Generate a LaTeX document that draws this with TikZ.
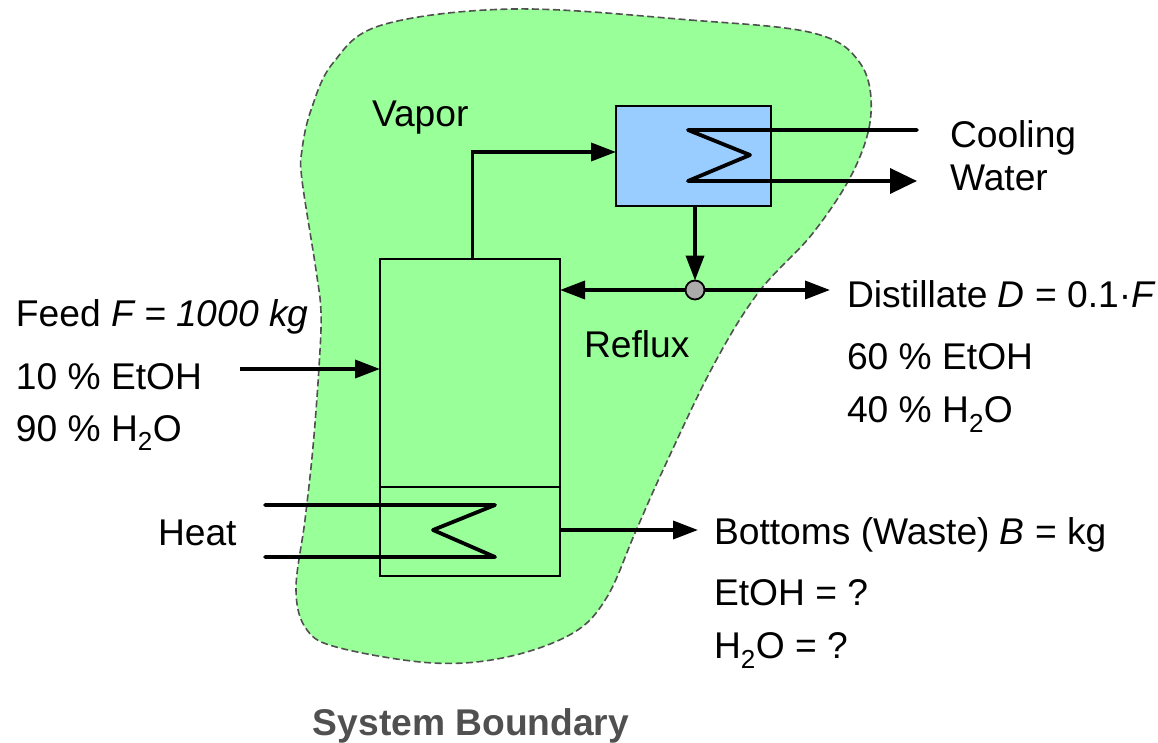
\documentclass[tikz,border=0pt]{standalone}
\usepackage{fontspec}
\setmainfont{Liberation Sans}
\usetikzlibrary{arrows.meta}
\definecolor{bfill}{HTML}{99FF99}
\definecolor{cfill}{HTML}{99CCFF}
\definecolor{jfill}{HTML}{ABABAB}
\definecolor{bline}{HTML}{505050}
\tikzset{
  x=1pt,y=-1pt,
  lab/.style={anchor=base west,inner sep=0pt,outer sep=0pt,font=\fontsize{37.2}{42}\selectfont},
  unitbox/.style={draw=black,line width=2pt,inner sep=0pt,outer sep=0pt},
  flow/.style={line width=3.6pt,line join=miter},
  flowend/.style={flow,-{Triangle[length=25pt,width=18pt]}},
  flowbig/.style={flow,-{Triangle[length=27pt,width=25pt]}},
  coil/.style={line width=3.8pt,line join=round,line cap=round},
}
\begin{document}
\begin{tikzpicture}
\useasboundingbox (0,0) rectangle (1158,743);
\draw[fill=bfill,draw=bline,line width=1.6pt,dash pattern=on 7pt off 3.5pt]
 plot[smooth cycle,tension=0.6] coordinates {
 (514,9) (690,20) (813,33) (860,63) (871,113) (854,170) (813,233) (758,293) (712,368)
 (663,470) (635,533) (607,597) (573,633) (507,657) (433,663) (340,648) (307,630)
 (296,590) (305,520) (313,447) (319,367) (321,313) (316,270) (302,180) (302,150) (311,110) (333,63) (382,25)};
% units
\node[unitbox,fill=bfill,minimum width=180pt,minimum height=228pt] (column) at (470,373) {};
\node[unitbox,fill=bfill,minimum width=180pt,minimum height=89pt] (reboiler) at (470,531.5) {};
\node[unitbox,fill=cfill,minimum width=155pt,minimum height=100pt] (condenser) at (693.5,156) {};
\node[draw=black,fill=jfill,line width=1.8pt,circle,minimum size=19pt,inner sep=0pt,outer sep=0pt] (junction) at (695,290) {};
% free ends
\coordinate (cwin) at (917,130);
\coordinate (cwout) at (917,181);
\coordinate (c1) at (688,130);
\coordinate (c2) at (750,155);
\coordinate (c3) at (688,181);
\coordinate (h0) at (265,505);
\coordinate (h1) at (495,505);
\coordinate (h2) at (433,530);
\coordinate (h3) at (495,557);
\coordinate (h4) at (265,557);
\coordinate (feedstart) at (240,369);
\coordinate (distend) at (830,290);
\coordinate (botend) at (698,530);
% coils
\draw[coil] (cwin) -- (c1) -- (c2) -- (c3) -- (770,181);
\draw[flowbig] (770,181) -- (cwout);
\draw[coil] (h0) -- (h1) -- (h2) -- (h3) -- (h4);
% streams
\draw[flowend] (column.north -| 472.5,0) |- (condenser.west |- 0,152);
\draw[flowend] (condenser.south -| junction) -- (junction.north);
\draw[flowend] (junction.west) -- (column.east |- junction);
\draw[flowend] (junction.east) -- (distend);
\draw[flowend] (feedstart) -- (column.west |- feedstart);
\draw[flowend] (reboiler.east |- botend) -- (botend);
% labels
\node[lab] (l1) at (372,126.5) {Vapor};
\node[lab] (l2) at (950,148) {Cooling};
\node[lab] (l3) at (950,191) {Water};
\node[lab] (l4) at (16,326) {Feed \textit{F = 1000 kg}};
\node[lab] (l5) at (16,389) {10 \% EtOH};
\node[lab] (l6) at (16,441) {90 \% H\textsubscript{2}O};
\node[lab] (l7) at (158,545) {Heat};
\node[lab] (l8) at (584,357) {Reflux};
\node[lab] (l9) at (847,307.5) {Distillate \textit{D} = 0.1·\textit{F}};
\node[lab] (l10) at (847,369.5) {60 \% EtOH};
\node[lab] (l11) at (847,422.5) {40 \% H\textsubscript{2}O};
\node[lab] (l12) at (714,544.5) {Bottoms (Waste) \textit{B} = kg};
\node[lab] (l13) at (714,605.5) {EtOH = ?};
\node[lab] (l14) at (714,658.5) {H\textsubscript{2}O = ?};
\node[anchor=base,inner sep=0pt,text=bline,font=\fontsize{37.2}{42}\selectfont\bfseries] (l15) at (471,735) {System Boundary};
\end{tikzpicture}
\end{document}
